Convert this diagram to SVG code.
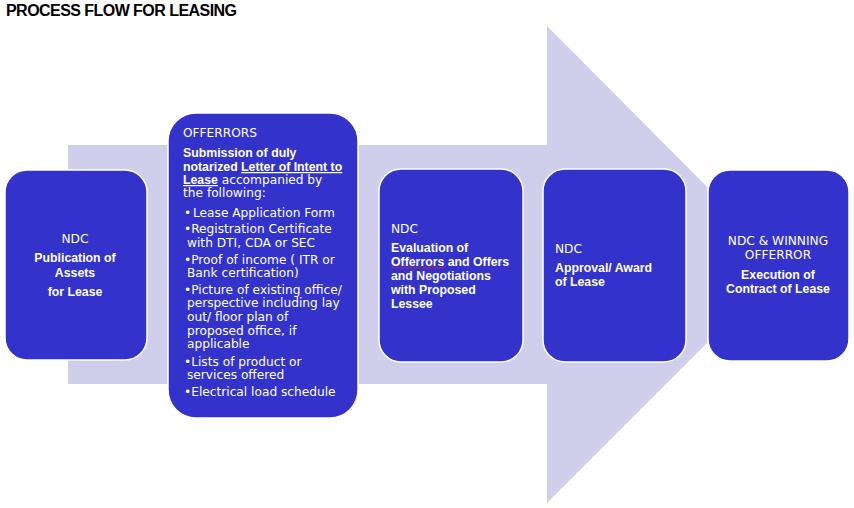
<svg xmlns="http://www.w3.org/2000/svg" width="854" height="508" viewBox="0 0 854 508">
<style>
.box{fill:#3333CC;stroke:#ffffff;stroke-width:1.5}
.t{font-family:"DejaVu Sans","Liberation Sans",sans-serif;fill:#ffffff;font-size:12.2px}
.b{font-family:"Liberation Sans","DejaVu Sans",sans-serif;font-weight:bold;font-size:12.3px}
.c{text-anchor:middle}
.title{font-family:"Liberation Sans","DejaVu Sans",sans-serif;font-weight:bold;font-size:16px;fill:#000000}
</style>
<rect width="854" height="508" fill="#ffffff"/>
<text class="title" x="6" y="16" textLength="231">PROCESS FLOW FOR LEASING</text>
<g id="connectors">
<polygon id="flow-arrow" points="68,145 547,145 547,26 785,265 547,503 547,384 68,384" fill="#CFCFEB"/>
</g>
<g id="node-publication">
<rect class="box" x="5" y="170" width="142" height="190" rx="22"/>
<text class="t c" x="75" y="243">NDC</text>
<text class="t b c" x="75" y="262">Publication of</text>
<text class="t b c" x="75" y="277">Assets</text>
<text class="t b c" x="75" y="296">for Lease</text>
</g>
<g id="node-offerrors">
<rect class="box" x="168" y="113" width="190" height="305" rx="28"/>
<text class="t" x="183" y="137">OFFERRORS</text>
<text class="t b" x="183" y="157">Submission of duly</text>
<text class="t" x="183" y="171"><tspan class="b">notarized </tspan><tspan class="b" text-decoration="underline">Letter of Intent to</tspan></text>
<text class="t" x="183" y="184"><tspan class="b" text-decoration="underline">Lease</tspan> accompanied by</text>
<text class="t" x="183" y="197">the following:</text>
<text class="t" x="184" y="217">•</text><text class="t" x="193" y="217">Lease Application Form</text>
<text class="t" x="184" y="233">•Registration Certificate</text>
<text class="t" x="187" y="247">with DTI, CDA or SEC</text>
<text class="t" x="184" y="264">•Proof of income ( ITR or</text>
<text class="t" x="187" y="277">Bank certification)</text>
<text class="t" x="184" y="294">•Picture of existing office/</text>
<text class="t" x="187" y="307">perspective including lay</text>
<text class="t" x="187" y="321">out/ floor plan of</text>
<text class="t" x="187" y="335">proposed office, if</text>
<text class="t" x="187" y="348">applicable</text>
<text class="t" x="184" y="366">•Lists of product or</text>
<text class="t" x="187" y="379">services offered</text>
<text class="t" x="184" y="396">•Electrical load schedule</text>
</g>
<g id="node-evaluation">
<rect class="box" x="379" y="169" width="144" height="193" rx="22"/>
<text class="t" x="391" y="233">NDC</text>
<text class="t b" x="391" y="252">Evaluation of</text>
<text class="t b" x="391" y="266">Offerrors and Offers</text>
<text class="t b" x="391" y="280">and Negotiations</text>
<text class="t b" x="391" y="294">with Proposed</text>
<text class="t b" x="391" y="308">Lessee</text>
<polyline points="391,268.5 393,267 395,268.5 397,267 399,268.5 401,267 403,268.5 405,267 407,268.5 409,267 411,268.5 413,267 415,268.5 417,267 419,268.5 421,267 423,268.5 425,267 427,268.5 429,267 431,268.5 433,267 435,268.5 437,267 439,268.5 441,267 443,268.5 445,267" fill="none" stroke="#E02020" stroke-width="0.8"/>
</g>
<g id="node-approval">
<rect class="box" x="543" y="169" width="143" height="193" rx="22"/>
<text class="t" x="555" y="253">NDC</text>
<text class="t b" x="555" y="272">Approval/ Award</text>
<text class="t b" x="555" y="286">of Lease</text>
</g>
<g id="node-execution">
<rect class="box" x="708" y="170" width="141" height="191" rx="22"/>
<text class="t c" x="778" y="245">NDC &amp; WINNING</text>
<text class="t c" x="778" y="259">OFFERROR</text>
<text class="t b c" x="778" y="279">Execution of</text>
<text class="t b c" x="778" y="293">Contract of Lease</text>
</g>
</svg>
